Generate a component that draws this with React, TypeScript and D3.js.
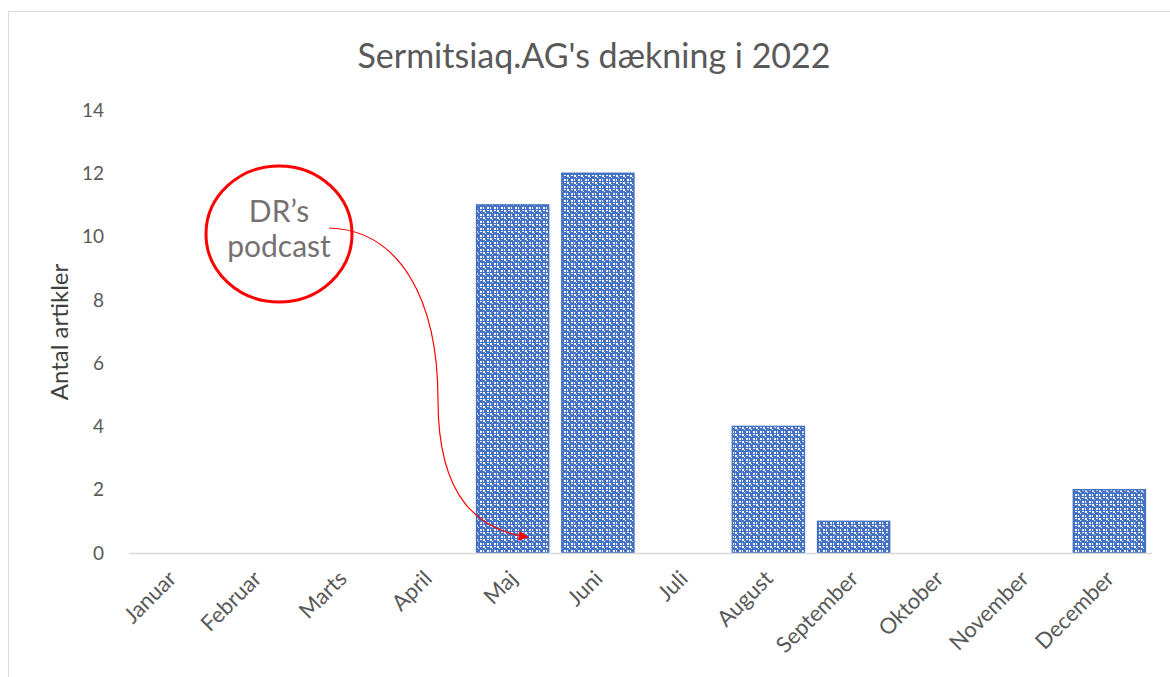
import React, { useEffect, useRef } from "react";
import * as d3 from "d3";

const months = [
  "Januar",
  "Februar",
  "Marts",
  "April",
  "Maj",
  "Juni",
  "Juli",
  "August",
  "September",
  "Oktober",
  "November",
  "December",
];
const articles = [0, 0, 0, 0, 11, 12, 0, 4, 1, 0, 0, 2];
const yTicks = [0, 2, 4, 6, 8, 10, 12, 14];

const App: React.FC = () => {
  const ref = useRef<SVGSVGElement | null>(null);

  useEffect(() => {
    const width = 1170;
    const height = 677;
    const svg = d3.select(ref.current);
    svg.selectAll("*").remove();
    svg.attr("width", width).attr("height", height);

    const font = "Lato, 'Open Sans', sans-serif";
    const textColor = "#595959";

    // pattern fill for bars
    const defs = svg.append("defs");
    const pat = defs
      .append("pattern")
      .attr("id", "dots")
      .attr("patternUnits", "userSpaceOnUse")
      .attr("width", 7)
      .attr("height", 7);
    pat.append("rect").attr("width", 7).attr("height", 7).attr("fill", "#4472c4");
    [
      [0, 0, 2, 2],
      [4, 4, 2, 2],
      [4, 0, 2, 1],
      [0, 4, 1, 2],
      [2, 2, 1, 1],
    ].forEach(([x, y, w, h]) => {
      pat.append("rect").attr("x", x).attr("y", y).attr("width", w).attr("height", h).attr("fill", "#fff");
    });

    const marker = defs
      .append("marker")
      .attr("id", "arrow")
      .attr("viewBox", "0 0 10 10")
      .attr("refX", 9)
      .attr("refY", 5)
      .attr("markerWidth", 13)
      .attr("markerHeight", 10)
      .attr("markerUnits", "userSpaceOnUse")
      .attr("orient", "auto");
    marker.append("path").attr("d", "M0,0 L10,5 L0,10 Z").attr("fill", "#ff0000");

    svg.append("rect").attr("width", width).attr("height", height).attr("fill", "#fff");

    // chart frame
    svg
      .append("rect")
      .attr("x", 8.5)
      .attr("y", 11.5)
      .attr("width", 1200)
      .attr("height", 700)
      .attr("fill", "none")
      .attr("stroke", "#d9d9d9");

    const left = 129;
    const right = 1152;
    const top = 110;
    const bottom = 553;

    const x = d3.scaleBand().domain(months).range([left, right]).paddingInner(0.155).paddingOuter(0.0775);
    const y = d3.scaleLinear().domain([0, 14]).range([bottom, top]);

    // title
    svg
      .append("text")
      .attr("x", 594)
      .attr("y", 68)
      .attr("text-anchor", "middle")
      .attr("font-family", font)
      .attr("font-size", "34px")
      .attr("fill", textColor)
      .text("Sermitsiaq.AG's dækning i 2022");

    // y ticks
    svg
      .append("g")
      .selectAll("text")
      .data(yTicks)
      .enter()
      .append("text")
      .attr("x", 104)
      .attr("y", (d) => y(d))
      .attr("dy", "0.35em")
      .attr("text-anchor", "end")
      .attr("font-family", font)
      .attr("font-size", "19px")
      .attr("fill", textColor)
      .text((d) => d);

    svg
      .append("text")
      .attr("transform", `translate(68, 332) rotate(-90)`)
      .attr("text-anchor", "middle")
      .attr("font-family", font)
      .attr("font-size", "24px")
      .attr("fill", "#404040")
      .text("Antal artikler");

    // bars
    svg
      .append("g")
      .selectAll("rect")
      .data(articles.map((v, i) => ({ month: months[i], value: v })).filter((d) => d.value > 0))
      .enter()
      .append("rect")
      .attr("x", (d) => x(d.month)!)
      .attr("y", (d) => y(d.value))
      .attr("width", x.bandwidth())
      .attr("height", (d) => y(0) - y(d.value))
      .attr("fill", "url(#dots)")
      .attr("stroke", "#4472c4")
      .attr("stroke-width", 1.5);

    // x axis line
    svg
      .append("line")
      .attr("x1", left)
      .attr("x2", right)
      .attr("y1", bottom + 0.5)
      .attr("y2", bottom + 0.5)
      .attr("stroke", "#d9d9d9")
      .attr("stroke-width", 1.5);

    // x labels
    svg
      .append("g")
      .selectAll("text")
      .data(months)
      .enter()
      .append("text")
      .attr("transform", (d) => `translate(${x(d)! + x.bandwidth() / 2 + 6}, ${bottom + 27}) rotate(-45)`)
      .attr("text-anchor", "end")
      .attr("font-family", font)
      .attr("font-size", "22px")
      .attr("fill", textColor)
      .text((d) => d);

    // annotation
    const ex = 279;
    const ey = 234;
    svg
      .append("ellipse")
      .attr("cx", ex)
      .attr("cy", ey)
      .attr("rx", 73)
      .attr("ry", 68)
      .attr("fill", "#fff")
      .attr("stroke", "#ff0000")
      .attr("stroke-width", 3);

    svg
      .append("text")
      .attr("x", ex)
      .attr("y", 222)
      .attr("text-anchor", "middle")
      .attr("font-family", font)
      .attr("font-size", "30px")
      .attr("fill", "#767171")
      .text("DR’s");
    svg
      .append("text")
      .attr("x", ex)
      .attr("y", 257)
      .attr("text-anchor", "middle")
      .attr("font-family", font)
      .attr("font-size", "30px")
      .attr("fill", "#767171")
      .text("podcast");

    const ax = x("Maj")! + x.bandwidth() / 2 + 15;
    const ay = y(0.5);
    svg
      .append("path")
      .attr("d", `M329,228 C400,230 438,300 438,400 C438,500 480,530 ${ax},${ay}`)
      .attr("fill", "none")
      .attr("stroke", "#ff0000")
      .attr("stroke-width", 1.2)
      .attr("marker-end", "url(#arrow)");
  }, []);

  return <svg ref={ref} style={{ position: "absolute", left: 0, top: 0 }}></svg>;
};

export default App;
